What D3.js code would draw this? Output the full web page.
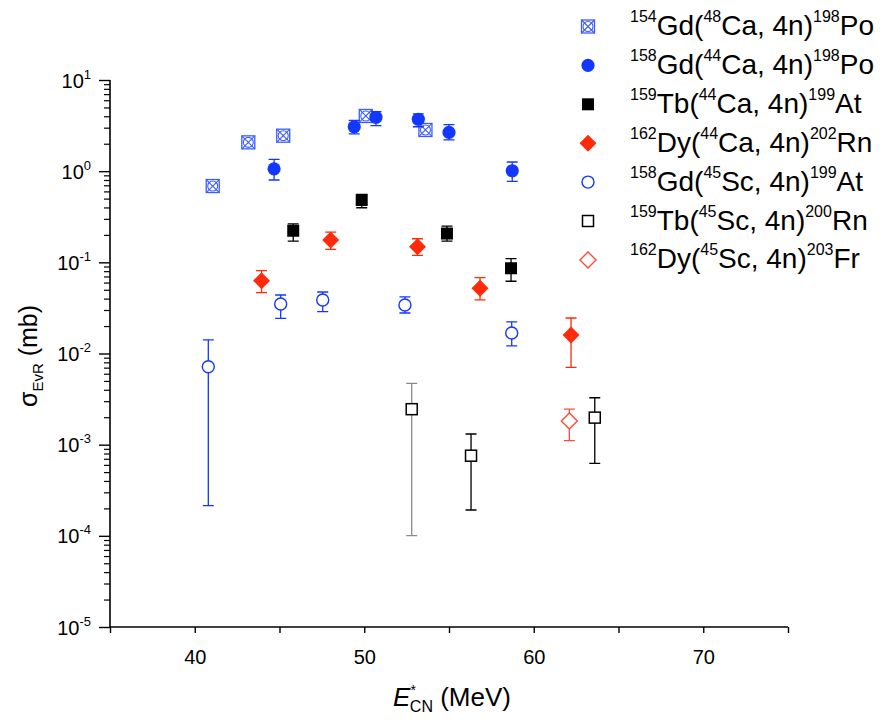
<!DOCTYPE html>
<html><head><meta charset="utf-8">
<script src="https://cdn.jsdelivr.net/npm/d3@7"></script>
<style>body{margin:0;background:#fff} text{font-family:Arial,"Liberation Sans",sans-serif;fill:#000}</style>
</head><body>
<svg id="c" width="882" height="726"></svg>
<script>
// ---- data (E*_CN in MeV, sigma in mb) ----
const gd154Ca48_E   = [41.06, 43.16, 45.22, 50.09, 53.61];
const gd154Ca48_sig = [0.687, 2.07, 2.45, 4.03, 2.83];
const gd154Ca48_lo  = [0.687, 2.07, 2.45, 4.03, 2.83];
const gd154Ca48_hi  = [0.687, 2.07, 2.45, 4.03, 2.83];

const gd158Ca44_E   = [44.68, 49.41, 50.69, 53.19, 55.0, 58.73];
const gd158Ca44_sig = [1.06, 3.07, 3.90, 3.71, 2.66, 1.01];
const gd158Ca44_lo  = [0.80, 2.56, 3.16, 3.07, 2.20, 0.774];
const gd158Ca44_hi  = [1.35, 3.60, 4.49, 4.24, 3.24, 1.26];

const tb159Ca44_E   = [45.81, 49.85, 54.88, 58.66];
const tb159Ca44_sig = [0.222, 0.483, 0.207, 0.0861];
const tb159Ca44_lo  = [0.171, 0.397, 0.171, 0.062];
const tb159Ca44_hi  = [0.264, 0.557, 0.250, 0.1096];

const dy162Ca44_E   = [43.94, 48.02, 53.14, 56.83, 62.2];
const dy162Ca44_sig = [0.063, 0.176, 0.1486, 0.0519, 0.016];
const dy162Ca44_lo  = [0.0465, 0.139, 0.119, 0.0387, 0.00706];
const dy162Ca44_hi  = [0.081, 0.215, 0.1815, 0.068, 0.0245];

const gd158Sc45_E   = [40.8, 45.07, 47.55, 52.4, 58.7];
const gd158Sc45_sig = [0.00716, 0.0349, 0.0386, 0.034, 0.0168];
const gd158Sc45_lo  = [0.000214, 0.0243, 0.0288, 0.0278, 0.0121];
const gd158Sc45_hi  = [0.0141, 0.0438, 0.0473, 0.0417, 0.0222];

const tb159Sc45_E   = [52.8, 56.3, 63.6];
const tb159Sc45_sig = [0.00245, 0.000757, 0.00198];
const tb159Sc45_lo  = [0.0001005, 0.000192, 0.000625];
const tb159Sc45_hi  = [0.00471, 0.00131, 0.00327];

const dy162Sc45_E   = [62.1];
const dy162Sc45_sig = [0.00182];
const dy162Sc45_lo  = [0.00111];
const dy162Sc45_hi  = [0.00245];

const xTicks = [35, 40, 45, 50, 55, 60, 65, 70, 75];
const xTickLabels = ["", "40", "", "50", "", "60", "", "70", ""];
const yTicks = [1e-5, 1e-4, 1e-3, 1e-2, 1e-1, 1, 10];
const yTickExps = ["-5", "-4", "-3", "-2", "-1", "0", "1"];

// legend labels: [target mass, target, projectile mass, projectile, product mass, product]
const legendLabels = [
  ["154","Gd","48","Ca","198","Po"],
  ["158","Gd","44","Ca","198","Po"],
  ["159","Tb","44","Ca","199","At"],
  ["162","Dy","44","Ca","202","Rn"],
  ["158","Gd","45","Sc","199","At"],
  ["159","Tb","45","Sc","200","Rn"],
  ["162","Dy","45","Sc","203","Fr"]
];

// ---- styles ----
const BLUE = "#1237ff", RED = "#ff2a0a", LRED = "#ff4a3a", BLACK = "#000";
const series = [
  {E: gd154Ca48_E, s: gd154Ca48_sig, lo: gd154Ca48_lo, hi: gd154Ca48_hi, sym: "crossSq", color: "#3a5cff"},
  {E: gd158Ca44_E, s: gd158Ca44_sig, lo: gd158Ca44_lo, hi: gd158Ca44_hi, sym: "circle", color: BLUE},
  {E: tb159Ca44_E, s: tb159Ca44_sig, lo: tb159Ca44_lo, hi: tb159Ca44_hi, sym: "square", color: BLACK},
  {E: dy162Ca44_E, s: dy162Ca44_sig, lo: dy162Ca44_lo, hi: dy162Ca44_hi, sym: "diamond", color: RED},
  {E: gd158Sc45_E, s: gd158Sc45_sig, lo: gd158Sc45_lo, hi: gd158Sc45_hi, sym: "openCircle", color: BLUE},
  {E: tb159Sc45_E, s: tb159Sc45_sig, lo: tb159Sc45_lo, hi: tb159Sc45_hi, sym: "openSquare", color: BLACK, barColors: ["#8a8a8a", BLACK, BLACK]},
  {E: dy162Sc45_E, s: dy162Sc45_sig, lo: dy162Sc45_lo, hi: dy162Sc45_hi, sym: "openDiamond", color: LRED}
];

const svg = d3.select("#c");
const x = d3.scaleLinear().domain([35, 75]).range([110, 788]);
const y = d3.scaleLog().domain([1e-5, 10]).range([627, 80]);

// ---- axes ----
const xAxis = d3.axisBottom(x).tickValues(xTicks).tickSize(6).tickSizeOuter(0)
  .tickFormat((d, i) => xTickLabels[i]);
const gx = svg.append("g").attr("transform", "translate(0,627)").call(xAxis);
gx.select(".domain").attr("stroke-width", 1.6).attr("d", "M110,0H788");
gx.selectAll(".tick line").attr("stroke-width", 1.4);
gx.selectAll(".tick text").attr("font-size", 20).attr("dy", 0).attr("y", 37).attr("fill", "#000");

const minors = [];
for (let e = -5; e < 1; e++) for (let m = 2; m <= 9; m++) minors.push(m * Math.pow(10, e));
const gyMinor = svg.append("g").attr("transform", "translate(110,0)")
  .call(d3.axisLeft(y).tickValues(minors).tickSize(6).tickFormat(""));
gyMinor.select(".domain").remove();
gyMinor.selectAll(".tick line").attr("stroke-width", 1.2);

const gy = svg.append("g").attr("transform", "translate(110,0)")
  .call(d3.axisLeft(y).tickValues(yTicks).tickSize(11).tickSizeOuter(0).tickFormat(""));
gy.select(".domain").attr("stroke-width", 1.6).attr("d", "M0,80V627");
gy.selectAll(".tick line").attr("stroke-width", 1.4);
gy.selectAll(".tick").each(function(d, i) {
  const t = d3.select(this).append("text").attr("x", -19).attr("y", 7)
    .attr("text-anchor", "end").attr("font-size", 20).attr("fill", "#000");
  t.append("tspan").text("10");
  t.append("tspan").attr("dy", -9).attr("font-size", 13).text(yTickExps[i]);
});

// axis titles
const yt = svg.append("text").attr("transform", "translate(37,356) rotate(-90)")
  .attr("text-anchor", "middle").attr("font-size", 25);
yt.append("tspan").text("σ");
yt.append("tspan").attr("dy", 6).attr("font-size", 15).text("EvR");
yt.append("tspan").attr("dy", -6).text(" (mb)");

const xt = svg.append("text").attr("x", 452).attr("y", 706)
  .attr("text-anchor", "middle").attr("font-size", 26);
xt.append("tspan").attr("font-style", "italic").text("E");
xt.append("tspan").attr("dy", -11).attr("font-size", 14).text("*");
xt.append("tspan").attr("dy", 17).attr("dx", -6).attr("font-size", 16).text("CN");
xt.append("tspan").attr("dy", -6).text(" (MeV)");

// ---- symbols ----
function drawSymbol(g, type, color, cx, cy) {
  switch (type) {
    case "crossSq": {
      const h = 6.5;
      g.append("rect").attr("x", cx - h).attr("y", cy - h).attr("width", 2*h).attr("height", 2*h)
        .attr("fill", "#fff").attr("stroke", color).attr("stroke-width", 1.3);
      g.append("path").attr("d", `M${cx-h},${cy-h}L${cx+h},${cy+h}M${cx+h},${cy-h}L${cx-h},${cy+h}`)
        .attr("stroke", color).attr("stroke-width", 1.1).attr("fill", "none");
      g.append("circle").attr("cx", cx).attr("cy", cy).attr("r", 5)
        .attr("fill", "none").attr("stroke", color).attr("stroke-width", 1.1);
      break;
    }
    case "circle":
      g.append("circle").attr("cx", cx).attr("cy", cy).attr("r", 6.6).attr("fill", color);
      break;
    case "square":
      g.append("rect").attr("x", cx - 6).attr("y", cy - 6).attr("width", 12).attr("height", 12).attr("fill", color);
      break;
    case "diamond":
      g.append("path").attr("d", `M${cx},${cy-8.5}L${cx+8.5},${cy}L${cx},${cy+8.5}L${cx-8.5},${cy}Z`).attr("fill", color);
      break;
    case "openCircle":
      g.append("circle").attr("cx", cx).attr("cy", cy).attr("r", 6).attr("fill", "#fff")
        .attr("stroke", color).attr("stroke-width", 1.4);
      break;
    case "openSquare":
      g.append("rect").attr("x", cx - 5.5).attr("y", cy - 5.5).attr("width", 11).attr("height", 11)
        .attr("fill", "#fff").attr("stroke", color).attr("stroke-width", 1.5);
      break;
    case "openDiamond":
      g.append("path").attr("d", `M${cx},${cy-8}L${cx+8},${cy}L${cx},${cy+8}L${cx-8},${cy}Z`)
        .attr("fill", "#fff").attr("stroke", color).attr("stroke-width", 1.4);
      break;
  }
}

// ---- data marks ----
const plot = svg.append("g");
series.forEach(sr => {
  sr.E.forEach((e, i) => {
    const g = plot.append("g");
    const cx = x(e);
    const bc = sr.barColors ? sr.barColors[i] : sr.color;
    if (sr.hi[i] !== sr.lo[i]) {
      const y1 = y(sr.hi[i]), y2 = y(sr.lo[i]);
      g.append("path").attr("d", `M${cx},${y1}V${y2}M${cx-5.5},${y1}H${cx+5.5}M${cx-5.5},${y2}H${cx+5.5}`)
        .attr("stroke", bc).attr("stroke-width", 1.3).attr("fill", "none");
    }
    drawSymbol(g, sr.sym, sr.color, cx, y(sr.s[i]));
  });
});

// ---- legend ----
const leg = svg.append("g");
legendLabels.forEach((lab, i) => {
  const by = 35 + i * 38.9;
  drawSymbol(leg, series[i].sym, series[i].color, 588, by - 8.5);
  const t = leg.append("text").attr("x", 630).attr("y", by).attr("font-size", 28);
  t.append("tspan").attr("dy", -13).attr("font-size", 16).text(lab[0]);
  t.append("tspan").attr("dy", 13).text(lab[1] + "(");
  t.append("tspan").attr("dy", -13).attr("font-size", 16).text(lab[2]);
  t.append("tspan").attr("dy", 13).text(lab[3] + ", 4n)");
  t.append("tspan").attr("dy", -13).attr("font-size", 16).text(lab[4]);
  t.append("tspan").attr("dy", 13).text(lab[5]);
});
</script>
</body></html>
